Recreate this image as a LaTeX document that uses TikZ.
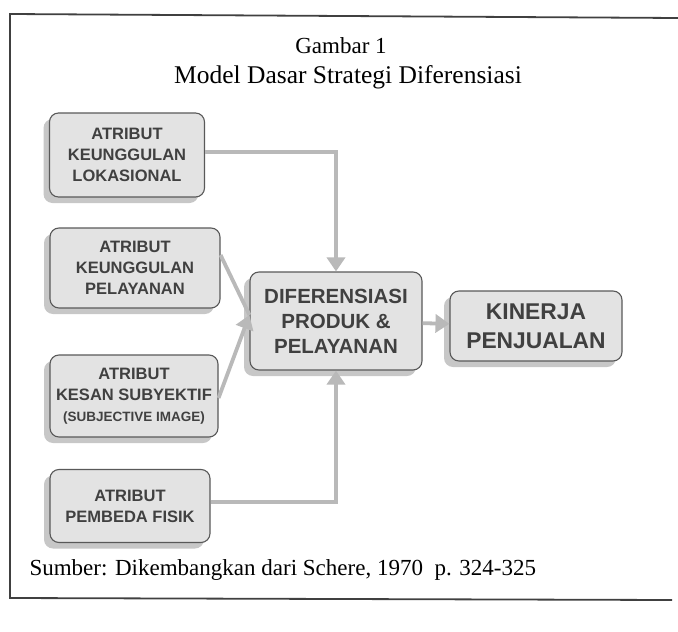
\documentclass[tikz,border=0pt]{standalone}
\usepackage{fontspec}
\setmainfont{Liberation Serif}
\newfontfamily\kotakfont{Liberation Sans}
\usepackage{tikz}
\usetikzlibrary{arrows.meta,shadows}

\begin{document}
\begin{tikzpicture}[x=1pt, y=-1pt,
    kotak/.style={draw=black!65, line width=1.1pt, rounded corners=9pt, fill=gray!22,
        align=center, inner sep=1pt, text=black!75, font=\kotakfont\bfseries\fontsize{16.5}{21}\selectfont,
        drop shadow={shadow xshift=-6pt, shadow yshift=-6pt, fill=gray!55, opacity=0.8}},
    panah/.style={line width=3.8pt, draw=gray!55, -{Triangle[width=18pt, length=14pt]}},
    garis/.style={line width=3.8pt, draw=gray!55}]
    \useasboundingbox (0,0) rectangle (678,632);

    % Bingkai
    \draw[line width=1.8pt, black!75] (678,18) -- (10,14) -- (10,598) -- (672,600);

    % Judul
    \node (judul) at (341,46) {\fontsize{23}{26}\selectfont Gambar 1};
    \node (subjudul) at (348,77) {\fontsize{25.5}{28}\selectfont Model Dasar Strategi Diferensiasi};

    % Atribut
    \node[kotak, minimum width=155pt, minimum height=84pt] (lok) at (127,155)
        {ATRIBUT\\KEUNGGULAN\\LOKASIONAL};
    \node[kotak, minimum width=170pt, minimum height=80pt] (pel) at (135,268)
        {ATRIBUT\\KEUNGGULAN\\PELAYANAN};
    \node[kotak, minimum width=168pt, minimum height=82pt] (kes) at (134,396)
        {ATRIBUT\\KESAN SUBYEKTIF\\{\fontsize{13.5}{15}\selectfont (SUBJECTIVE IMAGE)}};
    \node[kotak, minimum width=160pt, minimum height=73pt] (fis) at (130,506)
        {ATRIBUT\\PEMBEDA FISIK};

    % Diferensiasi dan kinerja
    \node[kotak, minimum width=172pt, minimum height=98pt,
        font=\kotakfont\bfseries\fontsize{20.5}{25}\selectfont] (dif) at (336,321)
        {DIFERENSIASI\\PRODUK \&\\PELAYANAN};
    \node[kotak, minimum width=172pt, minimum height=70pt,
        font=\kotakfont\bfseries\fontsize{22.8}{29}\selectfont] (kin) at (536,326)
        {KINERJA\\PENJUALAN};

    % Panah
    \draw[panah] ([yshift=3pt]lok.east) -| (dif.north);
    \draw[panah] ([yshift=4pt]fis.east) -| (dif.south);
    \draw[garis] ([yshift=13pt]pel.east) -- ([yshift=6pt]dif.west);
    \draw[panah] ([yshift=-2pt]kes.east) -- ([yshift=6pt]dif.west);
    \draw[panah] (dif) -- (kin);

    % Sumber
    \node[anchor=west] (sumber) at (26,570)
        {\fontsize{23}{27}\selectfont Sumber: Dikembangkan dari Schere, 1970\ \ p. 324-325};
\end{tikzpicture}
\end{document}
